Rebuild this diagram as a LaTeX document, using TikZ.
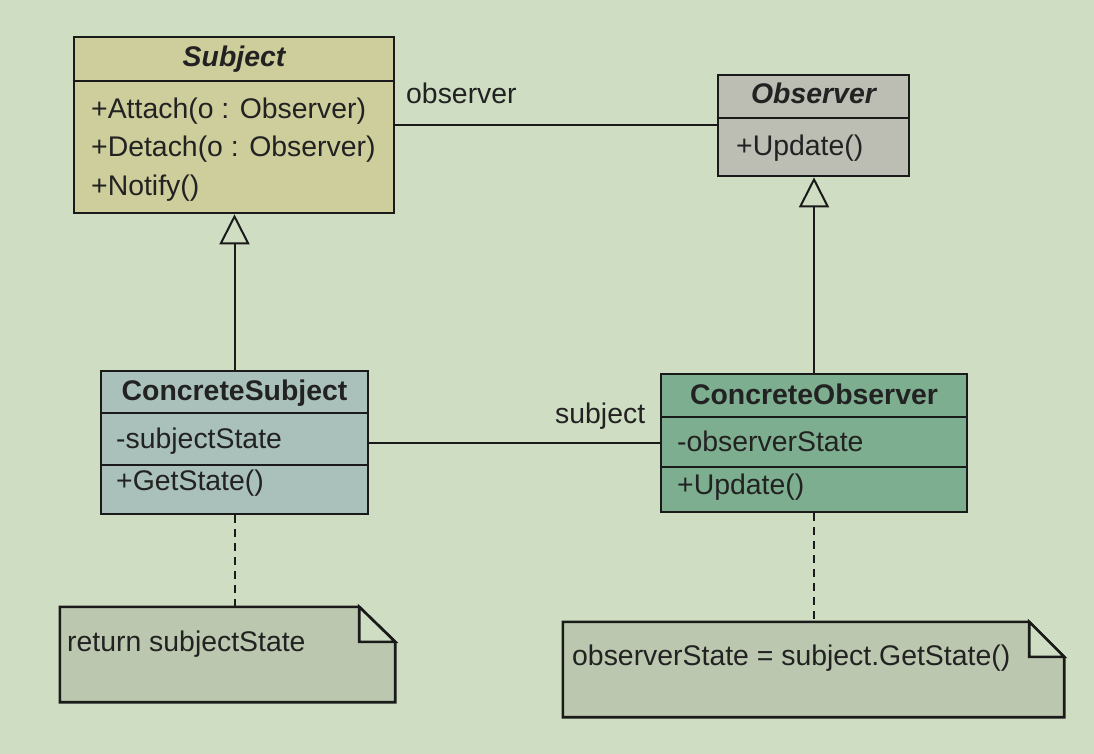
\documentclass[tikz,border=0pt]{standalone}
\usepackage{fontspec}
\setmainfont{Liberation Sans}
\usetikzlibrary{arrows.meta}
\definecolor{bg}{HTML}{CFDEC3}
\definecolor{subjfill}{HTML}{CECE9C}
\definecolor{obsfill}{HTML}{BCBEB4}
\definecolor{csubfill}{HTML}{A9C1BA}
\definecolor{cobsfill}{HTML}{7DAE8F}
\definecolor{notefill}{HTML}{BBC7AE}
\definecolor{ink}{HTML}{1A1A1A}
\definecolor{txt}{HTML}{222222}
\tikzset{
  classbox/.style={draw=ink, line width=2.6pt, rectangle, inner sep=0pt},
  divider/.style={draw=ink, line width=2.6pt},
  lbl/.style={anchor=base west, inner sep=0pt, text=txt, font=\fontsize{28.4}{34}\selectfont},
  hdr/.style={anchor=base, inner sep=0pt, text=txt, font=\fontsize{28.4}{34}\selectfont\bfseries},
  ihdr/.style={hdr, font=\fontsize{28.4}{34}\selectfont\bfseries\itshape},
  assoc/.style={draw=ink, line width=2pt},
  gen/.style={draw=ink, line width=2pt, -{Triangle[open, width=30pt, length=30pt, line width=2pt]}},
  anchorline/.style={draw=ink, line width=2pt, dash pattern=on 8pt off 6pt},
  notebody/.style={draw=ink, line width=2.6pt, fill=notefill, line join=miter},
  notefold/.style={draw=ink, line width=2.6pt, fill=bg, line join=miter},
  noteframe/.style={rectangle, inner sep=0pt}
}
\begin{document}
\begin{tikzpicture}[x=1pt, y=-1pt]
\useasboundingbox[fill=bg] (0,0) rectangle (1094,754);

% class boxes
\node[classbox, fill=subjfill, minimum width=320pt, minimum height=176pt] (subject) at (234,125) {};
\node[classbox, fill=obsfill, minimum width=191pt, minimum height=101pt] (observer) at (813.5,125.5) {};
\node[classbox, fill=csubfill, minimum width=267pt, minimum height=143pt] (csub) at (234.5,442.5) {};
\node[classbox, fill=cobsfill, minimum width=306pt, minimum height=138pt] (cobs) at (814,443) {};

% dividers
\draw[divider] (subject.west |- 0,81) -- (subject.east |- 0,81);
\draw[divider] (observer.west |- 0,118) -- (observer.east |- 0,118);
\draw[divider] (csub.west |- 0,413) -- (csub.east |- 0,413);
\draw[divider] (csub.west |- 0,465) -- (csub.east |- 0,465);
\draw[divider] (cobs.west |- 0,417) -- (cobs.east |- 0,417);
\draw[divider] (cobs.west |- 0,467) -- (cobs.east |- 0,467);

% texts
\node[ihdr] (subjectT) at (234,67) {Subject};
\node[lbl] (attachT) at (91,119) {+Attach(o : Observer)};
\node[lbl] (detachT) at (91,157) {+Detach(o : Observer)};
\node[lbl] (notifyT) at (91,195) {+Notify()};

\node[ihdr] (observerT) at (813.5,104) {Observer};
\node[lbl] (updateT) at (736,156) {+Update()};

\node[hdr] (csubT) at (234.5,400) {ConcreteSubject};
\node[lbl] (sstateT) at (116,448) {-subjectState};
\node[lbl] (getstateT) at (116,490) {+GetState()};

\node[hdr] (cobsT) at (814,404) {ConcreteObserver};
\node[lbl] (ostateT) at (677,451) {-observerState};
\node[lbl] (update2T) at (677,494) {+Update()};

% associations
\draw[assoc] (subject.east) -- (subject.east -| observer.west);
\node[lbl] (obsrole) at (406,104) {observer};
\draw[assoc] (csub.east) -- (csub.east -| cobs.west);
\node[lbl] (subjrole) at (555,423) {subject};

% generalizations
\draw[gen] (csub.north) -- (csub.north |- subject.south);
\draw[gen] (cobs.north) -- (cobs.north |- observer.south);

% notes
\node[noteframe, minimum width=335pt, minimum height=95pt] (note1) at (227.5,654.5) {};
\node[noteframe, minimum width=501pt, minimum height=95pt] (note2) at (813.5,669.5) {};
\path[notebody] (note1.south west) -- (note1.north west) -- ([xshift=-36pt]note1.north east) -- ([yshift=-35pt]note1.north east) -- (note1.south east) -- cycle;
\path[notefold] ([xshift=-36pt]note1.north east) -- ([xshift=-36pt,yshift=-35pt]note1.north east) -- ([yshift=-35pt]note1.north east) -- cycle;
\path[notebody] (note2.south west) -- (note2.north west) -- ([xshift=-35pt]note2.north east) -- ([yshift=-35pt]note2.north east) -- (note2.south east) -- cycle;
\path[notefold] ([xshift=-35pt]note2.north east) -- ([xshift=-35pt,yshift=-35pt]note2.north east) -- ([yshift=-35pt]note2.north east) -- cycle;
\node[lbl] (note1T) at (67,651) {return subjectState};
\node[lbl] (note2T) at (572,665) {observerState = subject.GetState()};

% note anchors
\draw[anchorline] (csub.south) -- (csub.south |- note1.north);
\draw[anchorline] (cobs.south) -- (cobs.south |- note2.north);
\end{tikzpicture}
\end{document}
